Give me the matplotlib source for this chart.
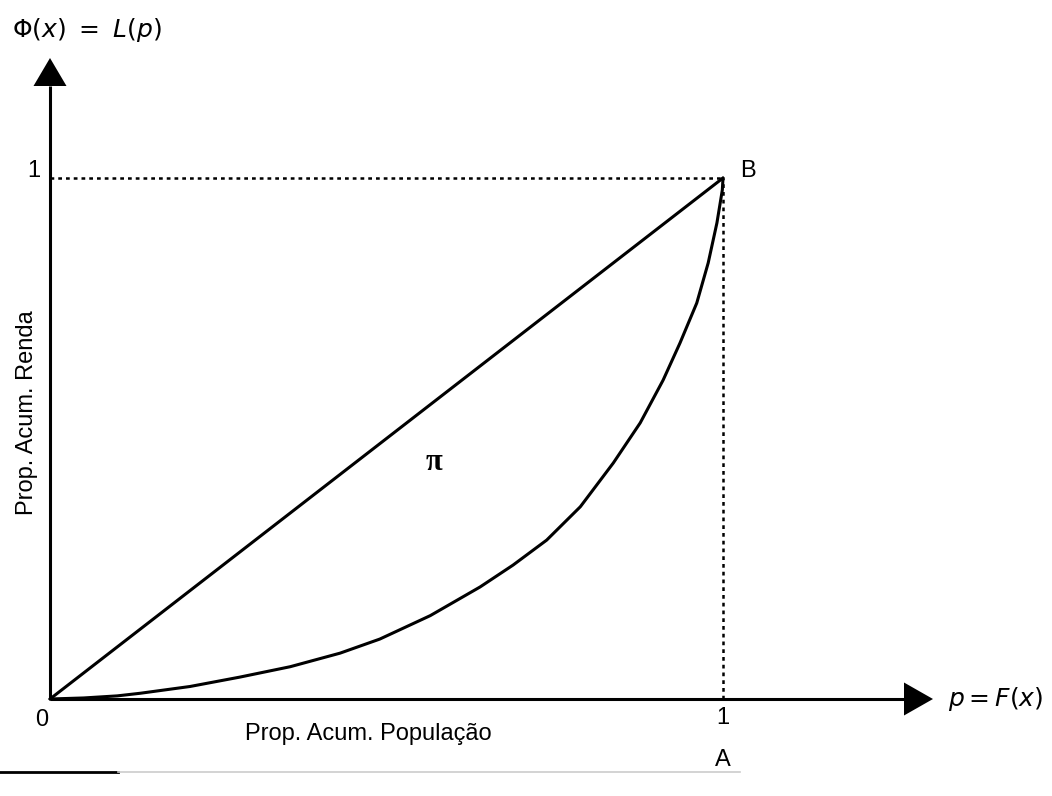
import matplotlib.pyplot as plt

plt.rcParams['font.family'] = ['Liberation Sans Narrow', 'Liberation Sans', 'DejaVu Sans']

# curva de Lorenz
p = [0.0, 0.05, 0.10, 0.134, 0.208, 0.282, 0.357, 0.431, 0.490, 0.565, 0.639,
     0.688, 0.738, 0.788, 0.837, 0.877, 0.911, 0.936, 0.961, 0.978, 0.991,
     0.999, 1.0]
L = [0.0, 0.002, 0.006, 0.011, 0.024, 0.042, 0.062, 0.088, 0.115, 0.160, 0.215,
     0.257, 0.305, 0.369, 0.453, 0.530, 0.612, 0.683, 0.760, 0.837, 0.914,
     0.977, 1.0]
igualdade = [0.0, 1.0]

# pixel layout: origem (50,699), ponto B (723,178)
W, H = 1052, 796
ox, oy = 50, 699
sx, sy = 673, 521


def px(x):
    return (x - ox) / sx


def py(y):
    return (oy - y) / sy


fig = plt.figure(figsize=(W / 100, H / 100), dpi=100)
ax = fig.add_axes([0, 0, 1, 1])
ax.set_xlim(px(0), px(W))
ax.set_ylim(py(H), py(0))
ax.axis('off')

lw = 2.2
k = 'black'

# eixos com setas
ytip, ybase = py(58), py(86)
xtip, xbase = px(933), px(904)
hw_x = 16.5 / sx
hw_y = 16.5 / sy
ax.plot([0, 0], [0, ybase], color=k, lw=lw, solid_capstyle='butt')
ax.fill([-hw_x, hw_x, 0], [ybase, ybase, ytip], color=k, lw=0)
ax.plot([0, xbase], [0, 0], color=k, lw=lw, solid_capstyle='butt')
ax.fill([xbase, xbase, xtip], [-hw_y, hw_y, 0], color=k, lw=0)

# linhas pontilhadas
ax.plot([0, 1], [1, 1], color=k, lw=1.8, dashes=(1.5, 1.6))
ax.plot([1, 1], [0, 1], color=k, lw=1.8, dashes=(1.5, 1.6))

# linha de igualdade e curva de Lorenz
ax.plot(igualdade, igualdade, color=k, lw=lw, solid_capstyle='round')
ax.plot(p, L, color=k, lw=lw, solid_capstyle='round', solid_joinstyle='round')

fs = 17
ax.text(px(12), py(30), r'$\Phi(x)\ =\ L(p)$', fontsize=18,
        ha='left', va='center', math_fontfamily='dejavusans')
ax.text(px(34), py(171), '1', fontsize=fs, ha='center', va='center')
ax.text(px(740), py(171), 'B', fontsize=fs, ha='left', va='center')
ax.text(px(42), py(720), '0', fontsize=fs, ha='center', va='center')
ax.text(1.0, py(718), '1', fontsize=fs, ha='center', va='center')
ax.text(1.0, py(760), 'A', fontsize=fs, ha='center', va='center')
ax.text(px(245), py(734), 'Prop. Acum. População', fontsize=fs,
        ha='left', va='center')
ax.text(px(27), py(413), 'Prop. Acum. Renda', fontsize=fs,
        ha='center', va='center', rotation=90)
ax.text(px(434), py(463), 'π', fontsize=22, fontweight='bold',
        family=['Liberation Serif', 'DejaVu Serif'], ha='center', va='center')
ax.text(px(948), 0.0, r'$p = F(x)$', fontsize=18, ha='left', va='center',
        math_fontfamily='dejavusans')

# régua na parte de baixo (borda da página digitalizada)
ax.plot([px(0), px(118)], [py(772), py(772)], color=k, lw=2.0)
ax.plot([px(118), px(740)], [py(772), py(772)], color='#cccccc', lw=1.2)

fig.savefig('out.png', dpi=100)
